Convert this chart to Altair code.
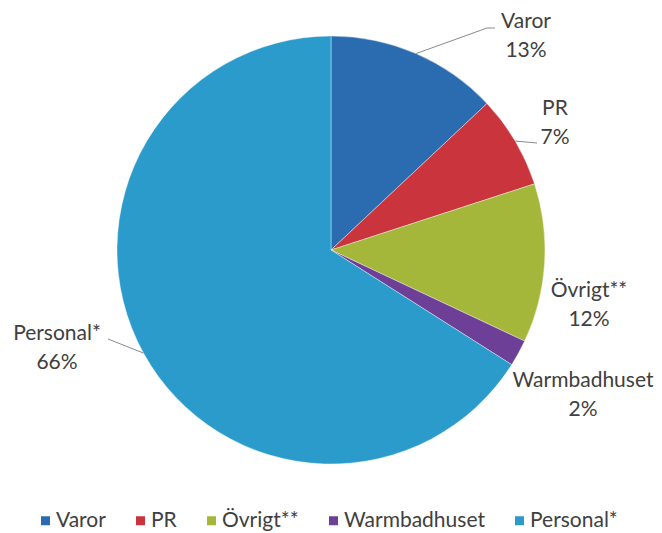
import math
import altair as alt
import pandas as pd

categories = ["Varor", "PR", "Övrigt**", "Warmbadhuset", "Personal*"]
values = [13, 7, 12, 2, 66]
colors = ["#2b6cb0", "#c9343d", "#a4b73a", "#6e3f96", "#2b9bcb"]

# ---- layout (pixels, view coordinates) ----
W, H = 646, 525
CX, CY = 323, 242          # pie centre
R = 214                    # pie radius
FONT = "Lato"
TXT = "#404040"
# label anchor (centre x, first-line baseline) as offset from the pie centre
label_dx = [195, 224, 258, 252, -274]
label_dy = [-222, -135, 47, 137, 90]

df = pd.DataFrame({"cat": categories, "val": values, "order": list(range(len(values)))})

tot = sum(values)
cum = 0
mids = []
for v in values:
    mids.append((cum + v / 2) / tot * 2 * math.pi)
    cum += v

lab = pd.DataFrame({
    "cat": categories,
    "text": [f"{c}\n{v}%" for c, v in zip(categories, values)],
    "x": [CX + dx for dx in label_dx],
    "y": [CY + dy for dy in label_dy],
})

def rim(i):
    return CX + R * math.sin(mids[i]), CY - R * math.cos(mids[i])

segs = []
x0, y0 = rim(0); segs.append((x0, y0, 479, 20)); segs.append((479, 20, 487, 20))
x0, y0 = rim(1); segs.append((x0, y0, 529, 135))
x0, y0 = rim(4); segs.append((x0, y0, 100, 331))
lines = pd.DataFrame(segs, columns=["x", "y", "x2", "y2"])

color_scale = alt.Scale(domain=categories, range=colors)

pie = alt.Chart(df).mark_arc(outerRadius=R, stroke="#ffffff", strokeWidth=0.4).encode(
    x=alt.value(CX), y=alt.value(CY),
    theta=alt.Theta("val:Q", stack=True),
    color=alt.Color("cat:N", scale=color_scale, sort=categories,
                    legend=alt.Legend(title=None, orient="none", direction="horizontal",
                                      legendX=22, legendY=502,
                                      symbolType="square", symbolSize=81,
                                      symbolStrokeWidth=0, symbolOffset=5,
                                      labelFont=FONT, labelFontSize=21, labelColor=TXT,
                                      columnPadding=19, labelOffset=0)),
    order=alt.Order("order:Q"),
)

leaders = alt.Chart(lines).mark_rule(color="#8a8a8a", strokeWidth=1).encode(
    x=alt.X("x:Q", scale=None, axis=None), y=alt.Y("y:Q", scale=None, axis=None),
    x2="x2:Q", y2="y2:Q",
)

labels = alt.Chart(lab).mark_text(
    font=FONT, fontSize=21, color=TXT, lineBreak="\n", lineHeight=28.5,
    align="center", baseline="alphabetic",
).encode(
    x=alt.X("x:Q", scale=None, axis=None), y=alt.Y("y:Q", scale=None, axis=None),
    text="text:N",
)

chart = alt.layer(pie, leaders, labels).properties(
    width=W, height=H, padding=0, autosize="none", background="#ffffff",
).configure_view(stroke=None)

chart.save("out.html", embed_options={"renderer": "svg", "actions": False})
